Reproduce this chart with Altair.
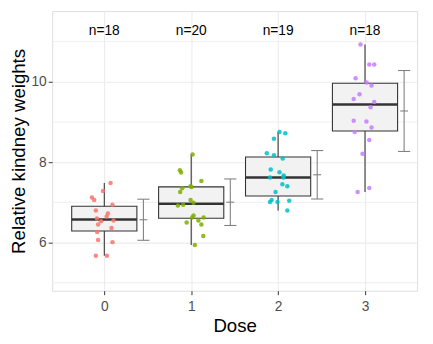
import altair as alt
import pandas as pd

doses = [0, 1, 2, 3]
palette = ["#F8766D", "#7CAE00", "#00BFC4", "#C77CFF"]

w0 = [7.48, 7.28, 7.12, 7.06, 6.94, 6.80, 6.72, 6.65, 6.60, 6.55, 6.53, 6.45, 6.36, 6.26, 6.06, 6.01, 5.67, 5.67]
j0 = [0.072, -0.015, -0.142, -0.116, 0.094, -0.097, 0.042, 0.027, -0.085, 0.106, -0.037, -0.071, 0.083, -0.082, -0.071, 0.094, -0.097, 0.030]

w1 = [8.19, 7.80, 7.74, 7.53, 7.40, 7.38, 7.35, 7.26, 7.06, 6.99, 6.92, 6.94, 6.67, 6.62, 6.62, 6.55, 6.50, 6.45, 6.16, 5.94]
j1 = [0.016, -0.130, -0.116, 0.117, -0.007, 0.004, -0.104, -0.127, -0.007, 0.027, -0.153, -0.093, 0.027, 0.011, 0.143, 0.083, -0.052, 0.117, 0.139, 0.042]

w2 = [8.75, 8.72, 8.58, 8.22, 8.17, 8.09, 7.82, 7.75, 7.67, 7.62, 7.62, 7.45, 7.40, 7.26, 7.06, 7.01, 7.01, 7.04, 6.80]
j2 = [0.016, 0.083, -0.048, -0.130, -0.048, 0.053, -0.085, 0.016, 0.064, 0.061, -0.093, 0.049, 0.106, -0.029, -0.074, -0.093, -0.007, 0.128, 0.106]

w3 = [10.93, 10.43, 10.43, 10.09, 9.98, 9.91, 9.69, 9.57, 9.50, 9.37, 9.03, 9.01, 8.86, 8.75, 8.55, 8.21, 7.36, 7.26]
j3 = [-0.052, 0.049, 0.106, -0.108, 0.019, 0.075, -0.063, -0.130, 0.106, 0.064, -0.130, 0.016, 0.075, -0.119, 0.049, -0.029, 0.049, -0.085]

minor_ticks = [5, 7, 9, 11]
major_ticks = [6, 8, 10]
label_y = 11.27

rows = []
for d, ws, js in zip(doses, [w0, w1, w2, w3], [j0, j1, j2, j3]):
    for w, j in zip(ws, js):
        rows.append({"dose": d, "weight": w, "jit": j})
df = pd.DataFrame(rows)

FONT = "Liberation Sans"
xscale = alt.Scale(domain=[-0.6, 3.6], nice=False, zero=False)
yscale = alt.Scale(domain=[4.8, 11.76], nice=False, zero=False)

xaxis = alt.Axis(values=doses, format="d", title="Dose", grid=True, gridColor="#EBEBEB",
                 gridWidth=1.1, domain=False, tickColor="#333333", tickSize=4,
                 labelFontSize=14, labelColor="#4D4D4D", labelPadding=5,
                 titleFontSize=19, titleColor="black", titleFontWeight="normal",
                 titlePadding=4, labelFont=FONT, titleFont=FONT)
yaxis = alt.Axis(values=major_ticks, title="Relative kindney weights", grid=True,
                 gridColor="#EBEBEB", gridWidth=1.1, domain=False, tickColor="#333333",
                 tickSize=4, labelFontSize=14, labelColor="#4D4D4D", labelPadding=2,
                 titleFontSize=19, titleColor="black", titleFontWeight="normal",
                 titlePadding=3, labelFont=FONT, titleFont=FONT)

base = alt.Chart(df)

minor = alt.Chart(pd.DataFrame({"v": minor_ticks})).mark_rule(
    color="#EBEBEB", strokeWidth=0.8
).encode(
    y=alt.Y("v:Q", scale=yscale, axis=yaxis),
)

whisk = base.transform_joinaggregate(
    q1="q1(weight)", q3="q3(weight)", groupby=["dose"]
).transform_filter(
    "datum.weight >= datum.q1 - 1.5*(datum.q3-datum.q1) && datum.weight <= datum.q3 + 1.5*(datum.q3-datum.q1)"
).transform_aggregate(
    lo="min(weight)", hi="max(weight)", groupby=["dose"]
).mark_rule(color="#333333", strokeWidth=1.1).encode(
    x=alt.X("dose:Q", scale=xscale, axis=xaxis),
    y=alt.Y("lo:Q", scale=yscale, axis=yaxis),
    y2="hi:Q",
)

boxagg = base.transform_aggregate(
    q1="q1(weight)", q3="q3(weight)", med="median(weight)", groupby=["dose"]
).transform_calculate(
    xl="datum.dose - 0.375", xr="datum.dose + 0.375"
)
box = boxagg.mark_rect(fill="#F2F2F2", stroke="#333333", strokeWidth=1.1).encode(
    x=alt.X("xl:Q", scale=xscale, axis=xaxis), x2="xr:Q",
    y=alt.Y("q1:Q", scale=yscale, axis=yaxis), y2="q3:Q",
)
med = boxagg.mark_rule(color="#333333", strokeWidth=2.6).encode(
    x=alt.X("xl:Q", scale=xscale, axis=xaxis), x2="xr:Q",
    y=alt.Y("med:Q", scale=yscale, axis=yaxis),
)

pts = base.transform_calculate(xj="datum.dose + datum.jit").mark_circle(
    size=21, opacity=0.85
).encode(
    x=alt.X("xj:Q", scale=xscale, axis=xaxis),
    y=alt.Y("weight:Q", scale=yscale, axis=yaxis),
    color=alt.Color("dose:N", scale=alt.Scale(domain=doses, range=palette), legend=None),
)

eagg = base.transform_aggregate(
    m="mean(weight)", s="stdev(weight)", groupby=["dose"]
).transform_calculate(
    lo="datum.m - datum.s", hi="datum.m + datum.s", xe="datum.dose + 0.45",
    c1="datum.dose + 0.38", c2="datum.dose + 0.52",
    t1="datum.dose + 0.405", t2="datum.dose + 0.495",
)
EC = "#808080"
evert = eagg.mark_rule(color=EC, strokeWidth=1.1).encode(
    x=alt.X("xe:Q", scale=xscale, axis=xaxis),
    y=alt.Y("lo:Q", scale=yscale, axis=yaxis), y2="hi:Q",
)
ecap_lo = eagg.mark_rule(color=EC, strokeWidth=1.1).encode(
    x=alt.X("c1:Q", scale=xscale, axis=xaxis), x2="c2:Q",
    y=alt.Y("lo:Q", scale=yscale, axis=yaxis),
)
ecap_hi = eagg.mark_rule(color=EC, strokeWidth=1.1).encode(
    x=alt.X("c1:Q", scale=xscale, axis=xaxis), x2="c2:Q",
    y=alt.Y("hi:Q", scale=yscale, axis=yaxis),
)
emean = eagg.mark_rule(color=EC, strokeWidth=1.1).encode(
    x=alt.X("t1:Q", scale=xscale, axis=xaxis), x2="t2:Q",
    y=alt.Y("m:Q", scale=yscale, axis=yaxis),
)

labels = base.transform_aggregate(
    n="count()", groupby=["dose"]
).transform_calculate(
    lab="'n=' + datum.n", ly=str(label_y)
).mark_text(font=FONT, fontSize=14, color="black", baseline="middle").encode(
    x=alt.X("dose:Q", scale=xscale, axis=xaxis),
    y=alt.Y("ly:Q", scale=yscale, axis=yaxis),
    text="lab:N",
)

chart = alt.layer(
    minor, whisk, box, med, pts, evert, ecap_lo, ecap_hi, emean, labels
).properties(
    width=372, height=285,
    autosize=alt.AutoSizeParams(type="none"),
    padding={"left": 45, "top": 0, "right": 8, "bottom": 45},
).configure_view(
    stroke="#333333", strokeWidth=1.1
).configure(
    background="white"
)

chart.save("out.html", embed_options={"renderer": "svg", "actions": False})
